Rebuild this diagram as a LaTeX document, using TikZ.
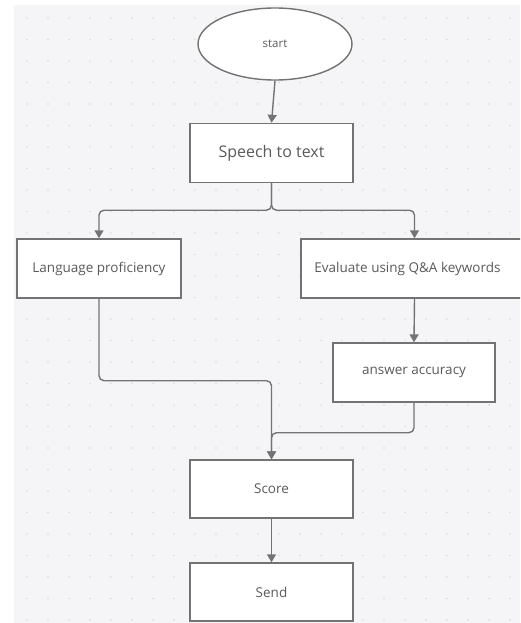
\documentclass[tikz,border=0pt]{standalone}
\usepackage{fontspec}
\setmainfont{Open Sans}
\usetikzlibrary{shapes.geometric,arrows.meta}
\definecolor{paper}{HTML}{F5F5F7}
\definecolor{linegray}{HTML}{737373}
\definecolor{textgray}{HTML}{5A5A5A}
\tikzset{
  box/.style={draw=linegray,line width=1.4pt,fill=white,minimum height=59pt,inner sep=0pt,text=textgray,font=\fontsize{13.5}{16}\selectfont},
  conn/.style={draw=linegray,line width=1.4pt,rounded corners=5pt,-{Triangle[width=9pt,length=8pt]}}
}
\begin{document}
\begin{tikzpicture}[x=1pt,y=-1pt]
\clip (0,0) rectangle (520,623);
\fill[white] (0,0) rectangle (520,623);
% dotted paper
\fill[paper] (14,5) rectangle (520,623);
\foreach \x in {27,48,...,520} {
  \foreach \y in {18,39.5,...,623} {
    \fill[gray!30] (\x,\y) circle (0.8pt);
  }
}

% nodes
\node[ellipse,draw=linegray,line width=1.4pt,fill=white,minimum width=154pt,minimum height=72pt,inner sep=0pt,text=textgray,font=\fontsize{11.5}{14}\selectfont] (start) at (275,44) {start};
\node[box,minimum width=163pt,font=\fontsize{16}{19}\selectfont] (speech) at (271.5,153) {Speech to text};
\node[box,minimum width=164pt] (lang) at (99,268.5) {Language proficiency};
\node[box,minimum width=227pt] (eval) at (414.5,268.5) {\hspace*{-14pt}Evaluate using Q\&A keywords};
\node[box,minimum width=162pt] (acc) at (414,372.5) {answer accuracy};
\node[box,minimum width=163pt,minimum height=58pt] (score) at (271.5,489) {Score};
\node[box,minimum width=163pt,minimum height=58pt] (send) at (271.5,592) {Send};

% connectors
\draw[conn] (start.south) -- (speech.north);
\draw[conn] (speech.south) -- ++(0,27) -| (lang.north);
\draw[conn] (speech.south) -- ++(0,27) -| (eval.north);
\draw[conn] (eval.south) -- (acc.north);
\draw[conn] (lang.south) -- ++(0,82) -| (score.north);
\draw[conn] (acc.south) -- ++(0,30) -| (score.north);
\draw[conn] (score.south) -- (send.north);
\end{tikzpicture}
\end{document}
